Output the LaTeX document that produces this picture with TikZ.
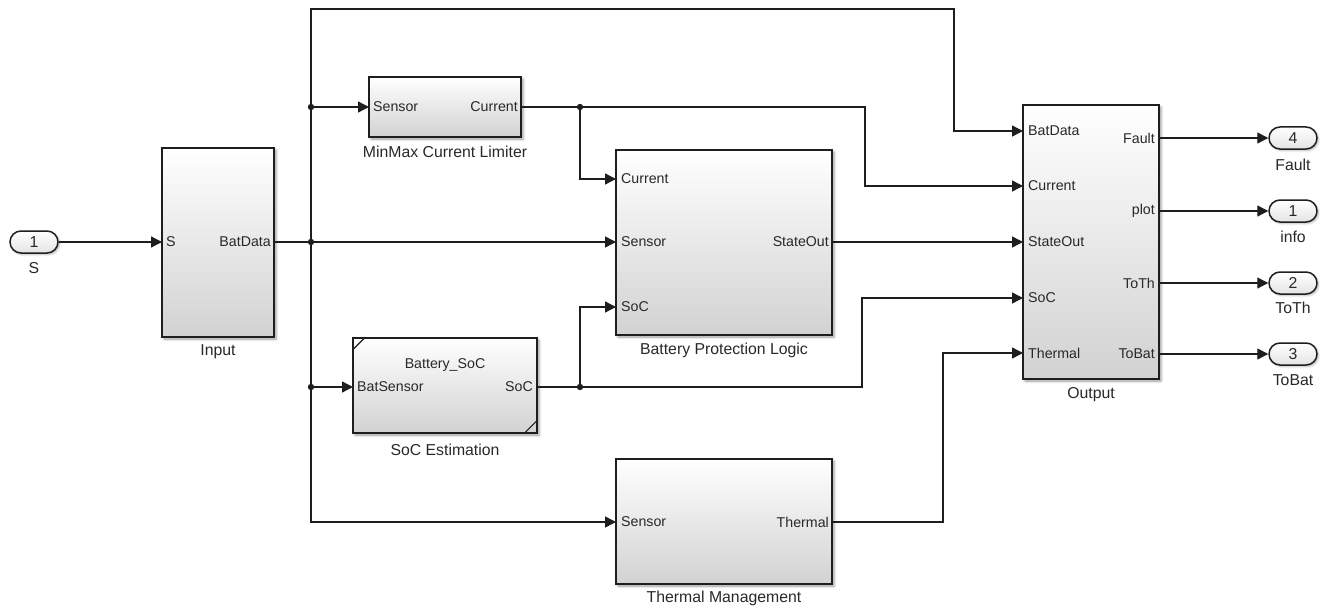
\documentclass[tikz,border=0pt]{standalone}
\usepackage{fontspec}
\setmainfont{Liberation Sans}
\usetikzlibrary{arrows.meta,shapes.misc,shadows.blur,calc}

\definecolor{wire}{RGB}{30,30,30}
\definecolor{ink}{RGB}{40,40,40}
\definecolor{blockbot}{RGB}{210,210,210}

\newcommand{\portfont}{\fontsize{14.2}{16}\selectfont}
\newcommand{\namefont}{\fontsize{15.8}{18}\selectfont}

\tikzset{
  x=1pt, y=-1pt,
  block/.style={draw=wire, line width=1.6pt, inner sep=0pt,
    top color=white, middle color=white, bottom color=blockbot,
    blur shadow={shadow xshift=2pt, shadow yshift=-2pt,
      shadow blur radius=2.5pt, shadow opacity=40}},
  portoval/.style={rounded rectangle, draw=wire, line width=1.5pt,
    minimum width=48pt, minimum height=22pt, inner sep=0pt,
    top color=white, bottom color=blockbot!60,
    blur shadow={shadow xshift=1.5pt, shadow yshift=-1.5pt,
      shadow blur radius=2pt, shadow opacity=30},
    font=\namefont, text=ink},
  inlabel/.style={anchor=west, inner sep=0pt, font=\portfont, text=ink},
  outlabel/.style={anchor=east, inner sep=0pt, font=\portfont, text=ink},
  blockname/.style={inner sep=0pt, font=\namefont, text=ink},
  sig/.style={draw=wire, line width=1.4pt},
  sigarrow/.style={sig, -{Triangle[length=11pt,width=11pt]}},
  dot/.style={fill=wire},
}

\begin{document}
\begin{tikzpicture}
\useasboundingbox (0,0) rectangle (1324,607);

% ---- blocks ----
\node[block, minimum width=112pt, minimum height=189pt] (inp) at (218,242.5) {};
\node[block, minimum width=152pt, minimum height=60pt]  (mm)  at (445,107) {};
\node[block, minimum width=216pt, minimum height=185pt] (bpl) at (724,242.5) {};
\node[block, minimum width=184pt, minimum height=95pt]  (soc) at (445,385.5) {};
\node[block, minimum width=216pt, minimum height=125pt] (thm) at (724,521.5) {};
\node[block, minimum width=136pt, minimum height=274pt] (out) at (1091,242) {};

% chart corner marks on the SoC block
\draw[wire, line width=1.2pt] ($(soc.north west)+(0,13)$) -- ($(soc.north west)+(13,0)$);
\draw[wire, line width=1.2pt] ($(soc.south east)+(-14,0)$) -- ($(soc.south east)+(0,-14)$);

% ---- port ovals ----
\node[portoval] (inS)  at (34,242)   {1};
\node[portoval] (oF)   at (1293,138) {4};
\node[portoval] (oI)   at (1293,211) {1};
\node[portoval] (oT)   at (1293,283) {2};
\node[portoval] (oB)   at (1293,354) {3};

% ---- port coordinates ----
\coordinate (inp-S)       at (162,242);
\coordinate (inp-Bat)     at (274,242);
\coordinate (mm-Sensor)   at (369,107);
\coordinate (mm-Current)  at (521,107);
\coordinate (bpl-Current) at (616,179);
\coordinate (bpl-Sensor)  at (616,242);
\coordinate (bpl-SoC)     at (616,307);
\coordinate (bpl-State)   at (832,242);
\coordinate (soc-In)      at (353,387);
\coordinate (soc-Out)     at (537,387);
\coordinate (thm-Sensor)  at (616,522);
\coordinate (thm-Out)     at (832,522);
\coordinate (out-Bat)     at (1023,131);
\coordinate (out-Current) at (1023,186);
\coordinate (out-State)   at (1023,242);
\coordinate (out-SoC)     at (1023,298);
\coordinate (out-Thermal) at (1023,353);
\coordinate (out-Fault)   at (1159,138);
\coordinate (out-plot)    at (1159,211);
\coordinate (out-ToTh)    at (1159,283);
\coordinate (out-ToBat)   at (1159,354);

% ---- routing points and junctions ----
\coordinate (jbus)  at (311,242);
\coordinate (jmm)   at (311,107);
\coordinate (jsoc)  at (311,387);
\coordinate (ttop)  at (311,9);
\coordinate (tturn) at (954,9);
\coordinate (jcur)  at (580,107);
\coordinate (cturn) at (865,107);
\coordinate (jsc)   at (580,387);
\coordinate (sturn) at (862,387);
\coordinate (hturn) at (943,522);

% ---- port labels ----
\node[inlabel]  at ($(inp-S)+(4,0)$) {S};
\node[outlabel] at ($(inp-Bat)+(-3,0)$) {BatData};
\node[inlabel]  at ($(mm-Sensor)+(4,0)$) {Sensor};
\node[outlabel] at ($(mm-Current)+(-3,0)$) {Current};
\node[inlabel]  at ($(bpl-Current)+(5,0)$) {Current};
\node[inlabel]  at ($(bpl-Sensor)+(5,0)$) {Sensor};
\node[inlabel]  at ($(bpl-SoC)+(5,0)$) {SoC};
\node[outlabel] at ($(bpl-State)+(-3,0)$) {StateOut};
\node[inlabel]  at ($(soc-In)+(4,0)$) {BatSensor};
\node[outlabel] at ($(soc-Out)+(-4,0)$) {SoC};
\node[blockname, font=\portfont] at (445,365) {Battery\_SoC};
\node[inlabel]  at ($(thm-Sensor)+(5,0)$) {Sensor};
\node[outlabel] at ($(thm-Out)+(-3,0)$) {Thermal};
\node[inlabel]  at ($(out-Bat)+(5,0)$) {BatData};
\node[inlabel]  at ($(out-Current)+(5,0)$) {Current};
\node[inlabel]  at ($(out-State)+(5,0)$) {StateOut};
\node[inlabel]  at ($(out-SoC)+(5,0)$) {SoC};
\node[inlabel]  at ($(out-Thermal)+(5,0)$) {Thermal};
\node[outlabel] at ($(out-Fault)+(-4,0)$) {Fault};
\node[outlabel] at ($(out-plot)+(-4,0)$) {plot};
\node[outlabel] at ($(out-ToTh)+(-4,0)$) {ToTh};
\node[outlabel] at ($(out-ToBat)+(-4,0)$) {ToBat};

% ---- block names ----
\node[blockname] at (34,268)   {S};
\node[blockname] at (218,352)  {Input};
\node[blockname] at (445,152)  {MinMax Current Limiter};
\node[blockname] at (724,350)  {Battery Protection Logic};
\node[blockname] at (445,450)  {SoC Estimation};
\node[blockname] at (724,598)  {Thermal Management};
\node[blockname] at (1091,395) {Output};
\node[blockname] at (1293,165) {Fault};
\node[blockname] at (1293,237) {info};
\node[blockname] at (1293,308) {ToTh};
\node[blockname] at (1293,380) {ToBat};

% ---- signal lines ----
\draw[sigarrow] (inS.east) -- (inp-S);
\draw[sigarrow] (inp-Bat) -- (bpl-Sensor);
\draw[sigarrow] (jbus) -- (ttop) -- (tturn) |- (out-Bat);
\draw[sigarrow] (jbus) |- (thm-Sensor);
\draw[sigarrow] (jmm) -- (mm-Sensor);
\draw[sigarrow] (jsoc) -- (soc-In);
\draw[sig] (mm-Current) -- (jcur);
\draw[sigarrow] (jcur) |- (bpl-Current);
\draw[sigarrow] (jcur) -- (cturn) |- (out-Current);
\draw[sig] (soc-Out) -- (jsc);
\draw[sigarrow] (jsc) |- (bpl-SoC);
\draw[sigarrow] (jsc) -- (sturn) |- (out-SoC);
\draw[sigarrow] (bpl-State) -- (out-State);
\draw[sigarrow] (thm-Out) -- (hturn) |- (out-Thermal);
\draw[sigarrow] (out-Fault) -- (oF.west);
\draw[sigarrow] (out-plot) -- (oI.west);
\draw[sigarrow] (out-ToTh) -- (oT.west);
\draw[sigarrow] (out-ToBat) -- (oB.west);

% ---- junction dots ----
\foreach \j in {jbus,jmm,jsoc,jcur,jsc}
  \fill[dot] (\j) circle (3.2pt);
\end{tikzpicture}
\end{document}
